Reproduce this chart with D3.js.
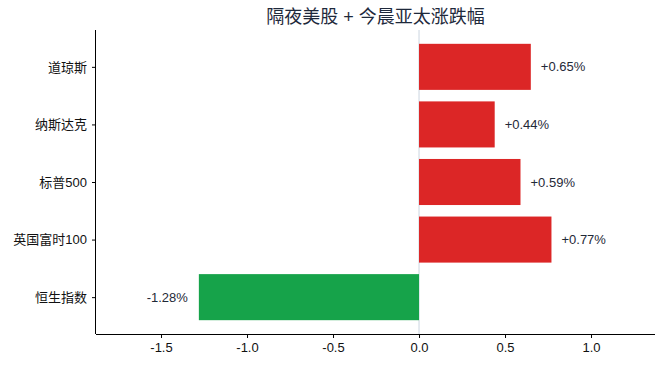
<!DOCTYPE html>
<html lang="zh">
<head>
<meta charset="utf-8">
<title>隔夜美股 + 今晨亚太涨跌幅</title>
<script src="https://d3js.org/d3.v7.min.js"></script>
<style>
  body { margin: 0; background: #fff; }
  svg text { font-family: "Liberation Sans", Arial, "Noto Sans CJK SC", sans-serif; }
</style>
</head>
<body>
<svg id="chart" width="662" height="367"></svg>
<script>
// data
var indices = ["道琼斯", "纳斯达克", "标普500", "英国富时100", "恒生指数"];
var changes = [0.65, 0.44, 0.59, 0.77, -1.28];
var xTicks = [-1.5, -1.0, -0.5, 0.0, 0.5, 1.0];

var plotL = 96, plotR = 655, plotT = 30, plotB = 334;

var svg = d3.select("#chart");

var x = d3.scaleLinear().domain([-1.878, 1.372]).range([plotL, plotR]);
// bars sit on 0..n-1, matplotlib-style 5% margin around +-0.4
var y = d3.scaleLinear().domain([-0.64, indices.length - 1 + 0.64]).range([plotT, plotB]);
var barH = y(0.4) - y(-0.4);

// zero line
svg.append("line")
  .attr("x1", x(0)).attr("x2", x(0))
  .attr("y1", plotT).attr("y2", plotB)
  .attr("stroke", "#cbd5e1").attr("stroke-width", 1);

// bars
svg.selectAll(".bar").data(changes).enter()
  .append("rect")
  .attr("class", "bar")
  .attr("x", function(d) { return x(Math.min(0, d)); })
  .attr("y", function(d, i) { return y(i) - barH / 2; })
  .attr("width", function(d) { return Math.abs(x(d) - x(0)); })
  .attr("height", barH)
  .attr("fill", function(d) { return d >= 0 ? "#dc2626" : "#16a34a"; });

// value labels
svg.selectAll(".val").data(changes).enter()
  .append("text")
  .attr("class", "val")
  .attr("x", function(d) { return d >= 0 ? x(d) + 10 : x(d) - 11; })
  .attr("y", function(d, i) { return y(i); })
  .attr("dy", "0.35em")
  .attr("text-anchor", function(d) { return d >= 0 ? "start" : "end"; })
  .attr("font-size", 13)
  .attr("fill", "#1f2937")
  .text(function(d) { return (d >= 0 ? "+" : "") + d.toFixed(2) + "%"; });

// axes
var xAxis = d3.axisBottom(x).tickValues(xTicks)
  .tickFormat(function(d) { return d.toFixed(1); }).tickSize(4).tickPadding(5);
var gx = svg.append("g").attr("transform", "translate(0," + plotB + ")").call(xAxis);
gx.select(".domain").attr("d", "M" + plotL + ",0.5H" + plotR);

var yAxis = d3.axisLeft(y).tickValues(d3.range(indices.length))
  .tickFormat(function(i) { return indices[i]; }).tickSize(4).tickPadding(5);
var gy = svg.append("g").attr("transform", "translate(" + plotL + ",0)").call(yAxis);
gy.select(".domain").attr("d", "M-0.5," + plotT + "V" + plotB);

[gx, gy].forEach(function(g) {
  g.selectAll("text").attr("font-size", 13).attr("fill", "#111")
    .style("font-family", "'Liberation Sans', Arial, 'Noto Sans CJK SC', sans-serif");
  g.select(".domain").attr("stroke", "#000").attr("stroke-width", 1);
  g.selectAll(".tick line").attr("stroke", "#000");
});

// title
svg.append("text")
  .attr("x", (plotL + plotR) / 2)
  .attr("y", 23)
  .attr("text-anchor", "middle")
  .attr("font-size", 18)
  .attr("fill", "#1e293b")
  .text("隔夜美股 + 今晨亚太涨跌幅");
</script>
</body>
</html>
